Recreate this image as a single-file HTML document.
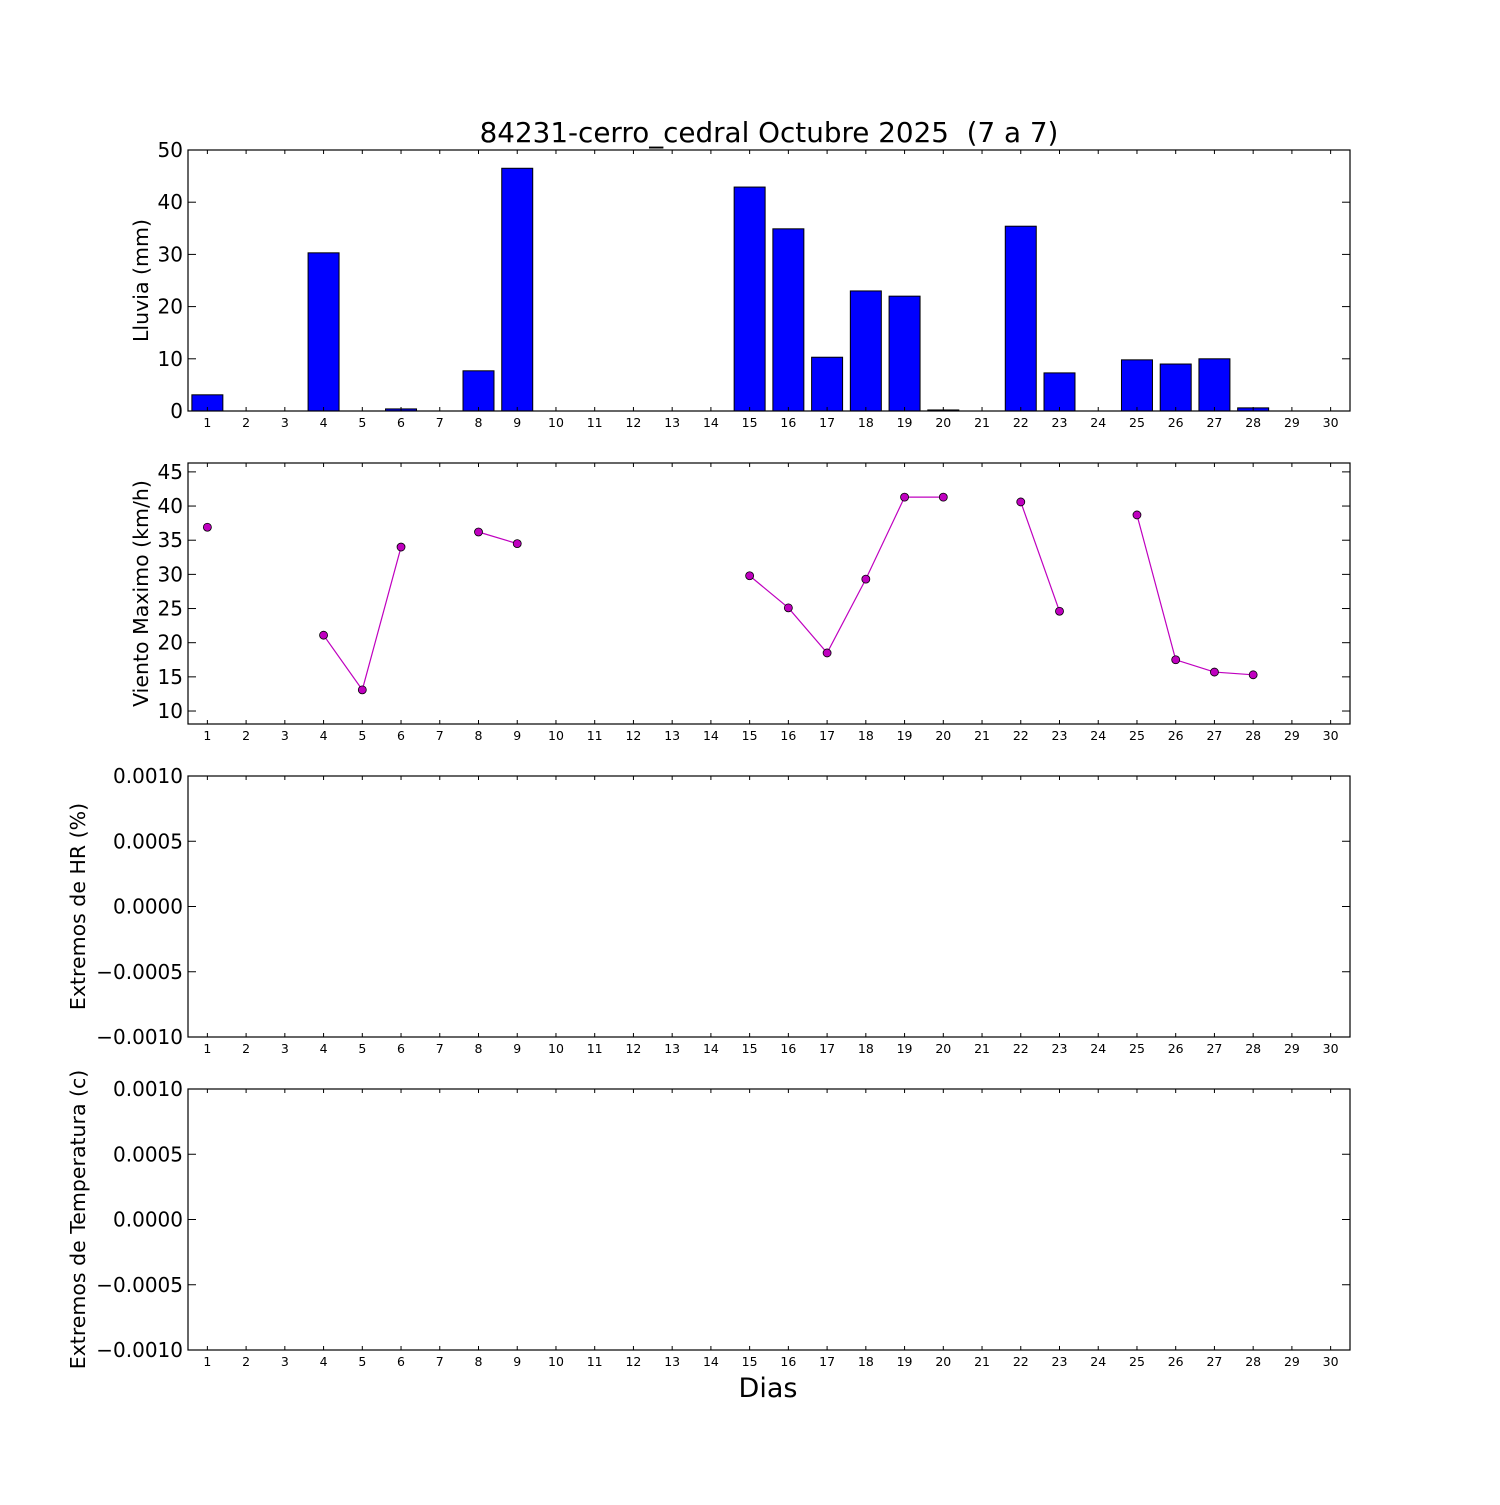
<!DOCTYPE html>
<html><head><meta charset="utf-8"><style>
body{margin:0;background:#fff}
svg text{font-family:"DejaVu Sans","Liberation Sans",sans-serif}
</style></head><body>
<svg id="c" width="1500" height="1500" xmlns="http://www.w3.org/2000/svg">
<rect width="1500" height="1500" fill="#fff"/>
<text x="769" y="142" font-size="27.8" text-anchor="middle" style="white-space:pre" xml:space="preserve">84231-cerro_cedral Octubre 2025  (7 a 7)</text>
<text x="768" y="1397" font-size="27" text-anchor="middle">Dias</text>
</svg>
<script>
const days=[1,2,3,4,5,6,7,8,9,10,11,12,13,14,15,16,17,18,19,20,21,22,23,24,25,26,27,28,29,30];
const rain=[3.1,0,0,30.3,0,0.4,0,7.7,46.5,0,0,0,0,0,42.9,34.9,10.3,23.0,22.0,0.2,0,35.4,7.3,0,9.8,9.0,10.0,0.6,0,0];
const wind=[36.9,null,null,21.1,13.1,34.0,null,36.2,34.5,null,null,null,null,null,29.8,25.1,18.5,29.3,41.3,41.3,null,40.6,24.6,null,38.7,17.5,15.7,15.3,null,null];
const rainTicks=[0,10,20,30,40,50];
const windTicks=[10,15,20,25,30,35,40,45];
const emptyTicks=[-0.001,-0.0005,0,0.0005,0.001];
const emptyTickLabels=["\u22120.0010","\u22120.0005","0.0000","0.0005","0.0010"];

const svg=document.getElementById('c');
const NS='http://www.w3.org/2000/svg';
function mk(tag,attrs,parent){const e=document.createElementNS(NS,tag);for(const k in attrs)e.setAttribute(k,attrs[k]);(parent||svg).appendChild(e);return e;}
const L=188,R=1350;
const xs=d=>L+(d-0.5)*(R-L)/30;
const panels=[
 {top:150,bot:411,ymin:0,ymax:50,ticks:rainTicks,labels:rainTicks.map(String),title:'Lluvia (mm)',tx:148,name:'rain'},
 {top:463,bot:724,ymin:8.1,ymax:46.3,ticks:windTicks,labels:windTicks.map(String),title:'Viento Maximo (km/h)',tx:148,name:'wind'},
 {top:776,bot:1037,ymin:-0.001,ymax:0.001,ticks:emptyTicks,labels:emptyTickLabels,title:'Extremos de HR (%)',tx:85,name:'humidity'},
 {top:1089,bot:1350,ymin:-0.001,ymax:0.001,ticks:emptyTicks,labels:emptyTickLabels,title:'Extremos de Temperatura (c)',tx:85,name:'temperature'}
];
panels.forEach((p,pi)=>{
 const g=mk('g',{});
 
 
 const ys=v=>p.bot-(v-p.ymin)/(p.ymax-p.ymin)*(p.bot-p.top);
 if(pi===0){
  days.forEach((d,i)=>{
   const h=ys(0)-ys(rain[i]);
   const b=mk('rect',{x:xs(d)-0.4*38.73,y:ys(rain[i]),width:0.8*38.73,height:h,fill:'#0000ff',stroke:'#000','stroke-width':1},g);
   
   
  });
 }
 if(pi===1){
  let seg=[];
  const segs=[];
  days.forEach((d,i)=>{if(wind[i]==null){if(seg.length)segs.push(seg);seg=[];}else seg.push([xs(d),ys(wind[i])]);});
  if(seg.length)segs.push(seg);
  segs.forEach(s=>{if(s.length>1){const l=mk('polyline',{points:s.map(q=>q.join(',')).join(' '),fill:'none',stroke:'#bf00bf','stroke-width':1.2},g);
   
   }});
  days.forEach((d,i)=>{if(wind[i]!=null){const c=mk('circle',{cx:xs(d),cy:ys(wind[i]),r:4,fill:'#bf00bf',stroke:'#000','stroke-width':0.8},g);
   
   }});
 }
 const fr=mk('rect',{x:L,y:p.top,width:R-L,height:p.bot-p.top,fill:'none',stroke:'#000','stroke-width':1.2},g);
 
 
 days.forEach(d=>{
  const x=xs(d);
  mk('line',{x1:x,x2:x,y1:p.bot,y2:p.bot-4,stroke:'#000'},g);
  mk('line',{x1:x,x2:x,y1:p.top,y2:p.top+4,stroke:'#000'},g);
  const t=mk('text',{x:x,y:p.bot+16,'font-size':12.5,'text-anchor':'middle'},g);
  t.textContent=d;
  
  
 });
 p.ticks.forEach((v,i)=>{
  const y=ys(v);
  mk('line',{x1:L,x2:L+8,y1:y,y2:y,stroke:'#000'},g);
  mk('line',{x1:R,x2:R-8,y1:y,y2:y,stroke:'#000'},g);
  const t=mk('text',{x:183,y:y+7,'font-size':20,'text-anchor':'end'},g);
  t.textContent=p.labels[i];
  
  
 });
 const cy=(p.top+p.bot)/2;
 const yt=mk('text',{x:p.tx,y:cy,'font-size':20.5,'text-anchor':'middle',transform:`rotate(-90 ${p.tx} ${cy})`},g);
 yt.textContent=p.title;
 
 
});
</script>
</body></html>
